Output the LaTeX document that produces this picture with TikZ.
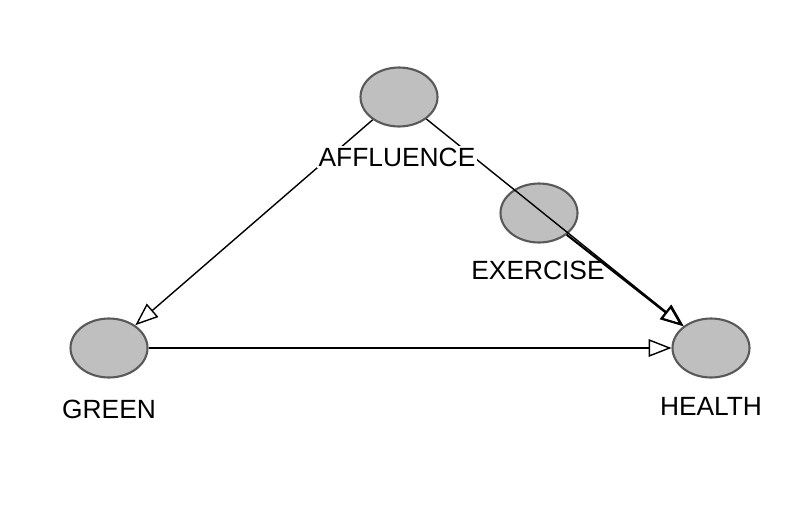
\documentclass[tikz,border=0pt]{standalone}
\usepackage{fontspec}
\setmainfont{Liberation Sans}
\usetikzlibrary{arrows.meta,shapes.geometric}
\begin{document}
\begin{tikzpicture}[x=0.02cm,y=-0.02cm,
  var/.style={ellipse,draw=black!65,line width=1.2pt,fill=black!25,minimum width=1.54cm,minimum height=1.18cm,inner sep=0pt},
  lab/.style={font=\fontsize{15pt}{16pt}\selectfont,inner sep=1pt},
  arr/.style={-{Triangle[open,length=13pt,width=10pt]},line width=0.8pt,black}]
\useasboundingbox (0,0) rectangle (800,517);
\node[var] (aff) at (399,97) {};
\node[var] (exe) at (539,213) {};
\node[var] (gre) at (109,348) {};
\node[var] (hea) at (711,348) {};
\draw[arr] (aff) -- (gre);
\draw[arr] (aff) -- (hea);
\draw[arr,line width=1.2pt] (exe) -- (hea);
\draw[arr] (gre) -- (hea);
\node[lab,fill=white] (laff) at (397,157) {AFFLUENCE};
\node[lab] (lexe) at (538,270) {EXERCISE};
\node[lab] (lgre) at (109,409) {GREEN};
\node[lab] (lhea) at (711,406) {HEALTH};
\end{tikzpicture}
\end{document}
